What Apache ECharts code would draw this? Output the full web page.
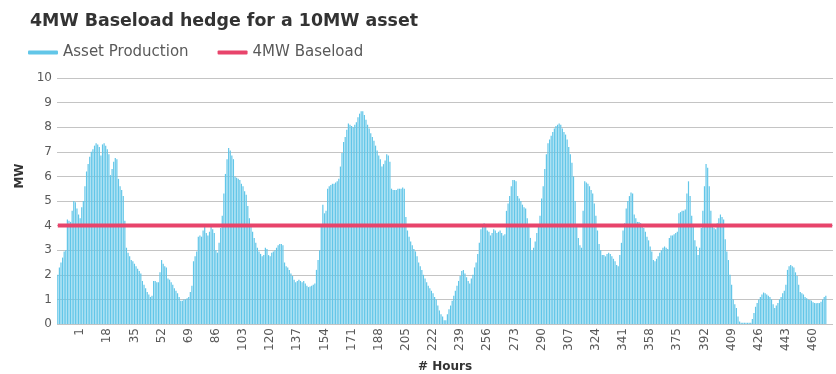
<!DOCTYPE html>
<html>
<head>
<meta charset="utf-8">
<script src="https://cdn.jsdelivr.net/npm/echarts@6/dist/echarts.min.js"></script>
<style>
html,body{margin:0;padding:0;background:#fff;}
#chart{width:836px;height:374px;}
</style>
</head>
<body>
<div id="chart"></div>
<script>
// Hour categories on the x axis (the plot starts a few slots before hour 1)
const firstHour = -13;
const lastHour = 472;
const hours = [];
for (let h = firstHour; h <= lastHour; h++) hours.push(String(h));

// Tick labels shown on the x axis
const tickLabels = ['1','18','35','52','69','86','103','120','137','154','171','188','205','222','239','256','273','290','307','324','341','358','375','392','409','426','443','460'];

// Asset production (MW), hours -13 .. 468
const production = [
  2.0,2.3,2.5,2.7,2.95,3.0,4.25,4.2,4.15,4.6,
  5.0,4.95,4.7,4.45,
  4.3,4.75,5.0,5.6,6.2,6.5,6.8,7.0,7.1,7.25,
  7.35,7.3,7.2,6.85,7.3,7.35,7.25,7.1,6.9,6.05,
  6.3,6.6,6.75,6.7,5.9,5.6,5.45,5.2,4.2,3.1,
  2.9,2.75,2.6,2.55,2.45,2.35,2.25,2.15,2.05,1.75,
  1.6,1.45,1.3,1.2,1.1,1.15,1.75,1.75,1.7,1.7,
  2.1,2.6,2.45,2.35,2.3,1.85,1.8,1.7,1.6,1.45,
  1.35,1.25,1.1,0.95,0.95,1.0,1.0,1.05,1.1,1.3,
  1.55,2.55,2.75,2.95,3.55,3.6,3.55,3.8,3.95,3.7,
  3.6,3.75,3.95,3.85,3.7,3.0,2.9,3.3,3.9,4.4,
  5.3,6.1,6.7,7.15,7.05,6.85,6.7,6.0,5.95,5.9,
  5.85,5.7,5.6,5.4,5.25,4.8,4.3,3.95,3.75,3.5,
  3.3,3.1,2.95,2.85,2.75,2.8,3.1,3.05,2.8,2.75,
  2.9,2.95,3.0,3.1,3.2,3.25,3.25,3.2,2.5,2.35,
  2.3,2.2,2.05,1.95,1.8,1.7,1.75,1.8,1.75,1.7,
  1.75,1.65,1.55,1.5,1.52,1.55,1.6,1.65,2.2,2.6,
  3.0,4.0,4.85,4.5,4.6,5.5,5.6,5.65,5.7,5.7,
  5.75,5.8,5.9,6.4,6.95,7.4,7.6,7.9,8.15,8.1,
  8.05,8.0,8.1,8.2,8.4,8.55,8.65,8.65,8.5,8.3,
  8.1,7.95,7.75,7.6,7.45,7.25,7.05,6.85,6.7,6.4,
  6.5,6.65,6.9,6.85,6.6,5.5,5.45,5.45,5.45,5.5,
  5.5,5.5,5.55,5.5,4.35,3.8,3.55,3.35,3.2,3.05,
  2.95,2.75,2.5,2.35,2.2,2.0,1.85,1.7,1.55,1.45,
  1.35,1.25,1.1,1.0,0.75,0.55,0.4,0.3,0.15,0.15,
  0.4,0.6,0.75,0.95,1.15,1.35,1.55,1.75,1.95,2.15,
  2.2,2.05,1.9,1.75,1.65,1.85,2.0,2.3,2.5,2.85,
  3.3,3.85,4.05,4.1,3.95,3.8,3.75,3.6,3.7,3.85,
  3.8,3.7,3.75,3.8,3.7,3.6,3.65,4.6,4.9,5.2,
  5.6,5.85,5.85,5.8,5.2,5.1,5.0,4.85,4.75,4.7,
  4.3,3.95,3.5,3.0,3.1,3.35,3.7,4.05,4.4,5.1,
  5.6,6.3,6.9,7.35,7.5,7.65,7.8,7.95,8.05,8.1,
  8.15,8.1,7.95,7.8,7.7,7.5,7.2,6.9,6.55,6.0,
  5.0,4.0,3.5,3.2,3.1,4.6,5.8,5.75,5.7,5.6,
  5.45,5.3,4.9,4.4,3.8,3.25,3.0,2.8,2.8,2.75,
  2.85,2.9,2.85,2.75,2.65,2.55,2.4,2.35,2.8,3.3,
  3.8,4.1,4.7,5.0,5.2,5.35,5.3,4.45,4.3,4.15,
  4.15,4.1,4.0,3.9,3.75,3.55,3.4,3.15,2.95,2.6,
  2.55,2.65,2.75,2.9,3.0,3.1,3.15,3.1,3.05,3.5,
  3.6,3.6,3.65,3.7,3.75,4.5,4.55,4.6,4.6,4.65,
  5.3,5.8,5.2,4.4,3.95,3.4,3.15,2.8,3.1,3.9,
  4.6,5.6,6.5,6.35,5.6,4.6,3.95,3.9,3.85,4.1,
  4.3,4.45,4.35,4.25,3.45,2.95,2.6,2.0,1.6,1.0,
  0.8,0.65,0.3,0.1,0.05,0.05,0.05,0.05,0.05,0.05,
  0.05,0.2,0.45,0.7,0.85,1.0,1.1,1.2,1.28,1.25,
  1.2,1.15,1.1,1.0,0.8,0.65,0.75,0.85,1.0,1.1,
  1.25,1.35,1.6,2.2,2.35,2.4,2.35,2.3,2.1,1.95,
  1.6,1.3,1.25,1.2,1.1,1.05,1.0,0.98,0.95,0.88,
  0.85,0.84,0.85,0.85,0.9,1.0,1.1,1.15
];

// Baseload hedge level (MW)
const baseloadMW = 4;
const baseload = hours.map(() => baseloadMW);

const chart = echarts.init(document.getElementById('chart'), null, {renderer: 'canvas'});
chart.setOption({
  animation: false,
  backgroundColor: '#ffffff',
  title: {
    text: '4MW Baseload hedge for a 10MW asset',
    left: 25, top: 8,
    textStyle: {fontFamily: 'DejaVu Sans', fontWeight: 'bold', fontSize: 17.4, color: '#333333'}
  },
  legend: {
    left: 23, top: 40,
    itemWidth: 30, itemHeight: 4, itemGap: 29,
    icon: 'roundRect',
    textStyle: {fontFamily: 'DejaVu Sans', fontSize: 15, color: '#595959'},
    data: ['Asset Production', '4MW Baseload']
  },
  grid: {left: 57, right: 3, top: 78, bottom: 50, containLabel: false, outerBoundsMode: 'none'},
  xAxis: {
    type: 'category',
    data: hours,
    boundaryGap: true,
    name: '# Hours',
    nameLocation: 'middle',
    nameGap: 37,
    nameTextStyle: {fontFamily: 'DejaVu Sans', fontWeight: 'bold', fontSize: 12, color: '#333333'},
    axisLine: {show: false},
    axisTick: {show: false},
    axisLabel: {
      rotate: 90,
      margin: 4,
      fontFamily: 'DejaVu Sans', fontSize: 12, color: '#595959',
      interval: (idx, val) => tickLabels.includes(val)
    },
    splitLine: {show: false}
  },
  yAxis: {
    type: 'value',
    min: 0, max: 10, interval: 1,
    name: 'MW',
    nameLocation: 'middle',
    nameRotate: 90,
    nameGap: 28,
    nameTextStyle: {fontFamily: 'DejaVu Sans', fontWeight: 'bold', fontSize: 12, color: '#333333', padding: [0, 0, 0, 50]},
    axisLine: {show: false},
    axisTick: {show: false},
    axisLabel: {fontFamily: 'DejaVu Sans', fontSize: 12, color: '#595959', margin: 5},
    splitLine: {lineStyle: {color: '#c4c4c4', width: 1}}
  },
  series: [
    {
      name: 'Asset Production',
      type: 'bar',
      data: production,
      barCategoryGap: '25%',
      itemStyle: {color: '#62C6E8'},
      z: 2
    },
    {
      name: '4MW Baseload',
      type: 'line',
      data: baseload,
      symbol: 'none',
      lineStyle: {color: '#E8446B', width: 4},
      itemStyle: {color: '#E8446B'},
      z: 3
    }
  ]
});
</script>
</body>
</html>
